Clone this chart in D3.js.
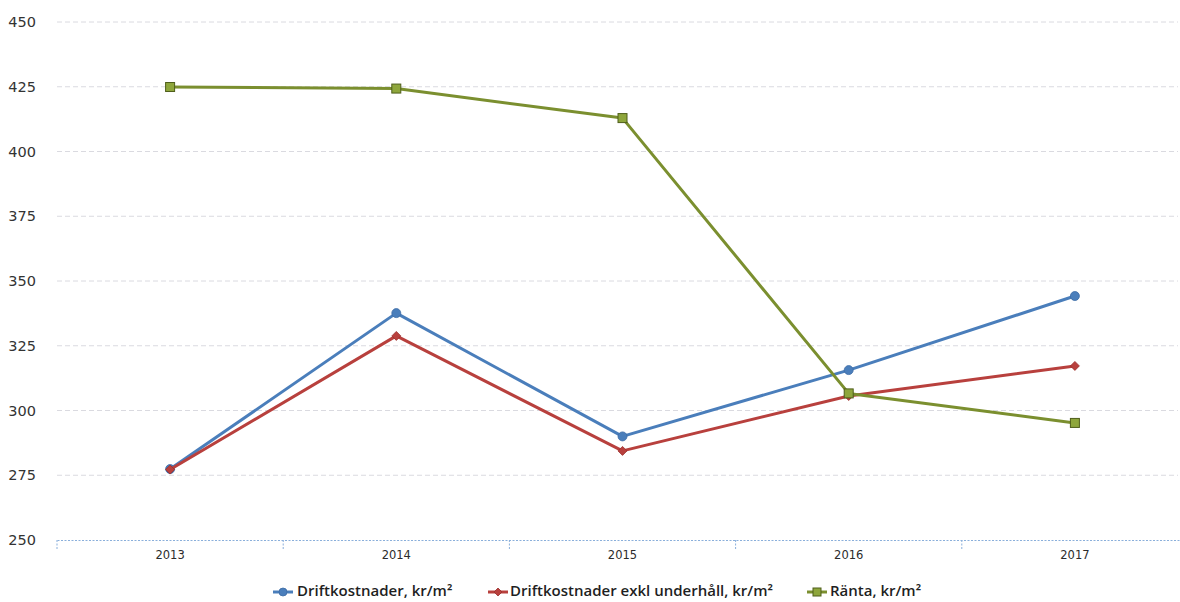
<!DOCTYPE html>
<html>
<head>
<meta charset="utf-8">
<script src="https://cdn.jsdelivr.net/npm/d3@7"></script>
<style>
  html, body { margin: 0; padding: 0; background: #fff; }
  svg { display: block; }
</style>
</head>
<body>
<svg id="chart" width="1180" height="602"></svg>
<script>
// Kostnader per kvadratmeter, 2013–2017
const years = ["2013", "2014", "2015", "2016", "2017"];
const driftkostnader = [277.4, 337.6, 290.0, 315.6, 344.2];
const driftExklUnderhall = [277.2, 328.8, 284.4, 305.6, 317.2];
const ranta = [424.9, 424.3, 412.9, 306.6, 295.2];
const yTicks = [250, 275, 300, 325, 350, 375, 400, 425, 450];

const seriesNames = ["Driftkostnader, kr/m²", "Driftkostnader exkl underhåll, kr/m²", "Ränta, kr/m²"];
const seriesValues = [driftkostnader, driftExklUnderhall, ranta];
const seriesStyle = [
  { stroke: "#4a7ebb", fill: "#4a7ebb", edge: "#3d6ca6", marker: "circle" },
  { stroke: "#b8403d", fill: "#b8403d", edge: "#9a2f2c", marker: "diamond" },
  { stroke: "#7b8f2f", fill: "#8ea63c", edge: "#4f5e1b", marker: "square" }
];

(function () {
  const svg = d3.select("#chart");
  const plotLeft = 57, plotRight = 1188, plotTop = 22, plotBottom = 540;

  const x = d3.scaleBand().domain(years).range([plotLeft, plotRight]);
  const y = d3.scaleLinear().domain([250, 450]).range([plotBottom, plotTop]);

  // horizontal gridlines
  svg.append("g")
    .selectAll("line")
    .data(yTicks.filter(t => t !== 250))
    .join("line")
    .attr("x1", plotLeft).attr("x2", 1178)
    .attr("y1", d => y(d)).attr("y2", d => y(d))
    .attr("stroke", "#dadae0")
    .attr("stroke-width", 1)
    .attr("stroke-dasharray", "5,3");

  // y axis labels
  const yAxis = d3.axisLeft(y).tickValues(yTicks).tickSize(0).tickPadding(0);
  const gy = svg.append("g").attr("transform", "translate(36,0)").call(yAxis);
  gy.select(".domain").remove();
  gy.selectAll("text")
    .attr("font-family", "Verdana, 'DejaVu Sans', sans-serif")
    .attr("font-size", 14.5)
    .attr("fill", "#333");

  // x axis: dotted baseline with band ticks
  const xAxis = d3.axisBottom(x).tickSize(0).tickPadding(11);
  const gx = svg.append("g").attr("transform", `translate(0,${plotBottom})`).call(xAxis);
  gx.select(".domain")
    .attr("stroke", "#8aafdb")
    .attr("stroke-dasharray", "2,1.5");
  gx.selectAll("text")
    .attr("font-family", "Verdana, 'DejaVu Sans', sans-serif")
    .attr("font-size", 11.5)
    .attr("fill", "#2b2b2b");
  const bounds = years.map(d => x(d)).concat([plotRight]);
  gx.append("g").selectAll("line")
    .data(bounds)
    .join("line")
    .attr("x1", d => d).attr("x2", d => d)
    .attr("y1", 0).attr("y2", 9)
    .attr("stroke", "#8aafdb")
    .attr("stroke-dasharray", "2,1.5");

  const cx = d => x(d) + x.bandwidth() / 2;

  function drawMarker(g, type, px, py, st, s) {
    if (type === "circle") {
      g.append("circle").attr("cx", px).attr("cy", py).attr("r", s)
        .attr("fill", st.fill).attr("stroke", st.edge).attr("stroke-width", 0.8);
    } else if (type === "diamond") {
      g.append("path")
        .attr("d", `M${px},${py - s}L${px + s},${py}L${px},${py + s}L${px - s},${py}Z`)
        .attr("fill", st.fill).attr("stroke", st.edge).attr("stroke-width", 0.8);
    } else {
      g.append("rect").attr("x", px - s).attr("y", py - s)
        .attr("width", 2 * s).attr("height", 2 * s)
        .attr("fill", st.fill).attr("stroke", st.edge).attr("stroke-width", 1);
    }
  }

  const line = d3.line().x((d, i) => cx(years[i])).y(d => y(d));

  seriesValues.forEach((vals, si) => {
    const st = seriesStyle[si];
    const g = svg.append("g");
    g.append("path")
      .datum(vals)
      .attr("d", line)
      .attr("fill", "none")
      .attr("stroke", st.stroke)
      .attr("stroke-width", 3)
      .attr("stroke-linejoin", "round");
    vals.forEach((v, i) => drawMarker(g, st.marker, cx(years[i]), y(v), st, 4.5));
  });

  // legend
  const legendPos = [
    { x: 273, textX: 297 },
    { x: 488, textX: 510 },
    { x: 807, textX: 830 }
  ];
  const lg = svg.append("g");
  seriesNames.forEach((name, i) => {
    const st = seriesStyle[i];
    const it = legendPos[i];
    const ly = 592;
    lg.append("line")
      .attr("x1", it.x).attr("x2", it.x + 20)
      .attr("y1", ly).attr("y2", ly)
      .attr("stroke", st.stroke).attr("stroke-width", 3);
    drawMarker(lg, st.marker, it.x + 10, ly, st, 4);
    lg.append("text")
      .attr("x", it.textX).attr("y", ly + 4)
      .attr("font-family", "'Open Sans', 'Liberation Sans', sans-serif")
      .attr("font-weight", 600)
      .attr("font-size", 15)
      .attr("fill", "#1f1f1f")
      .text(name);
  });
})();
</script>
</body>
</html>
